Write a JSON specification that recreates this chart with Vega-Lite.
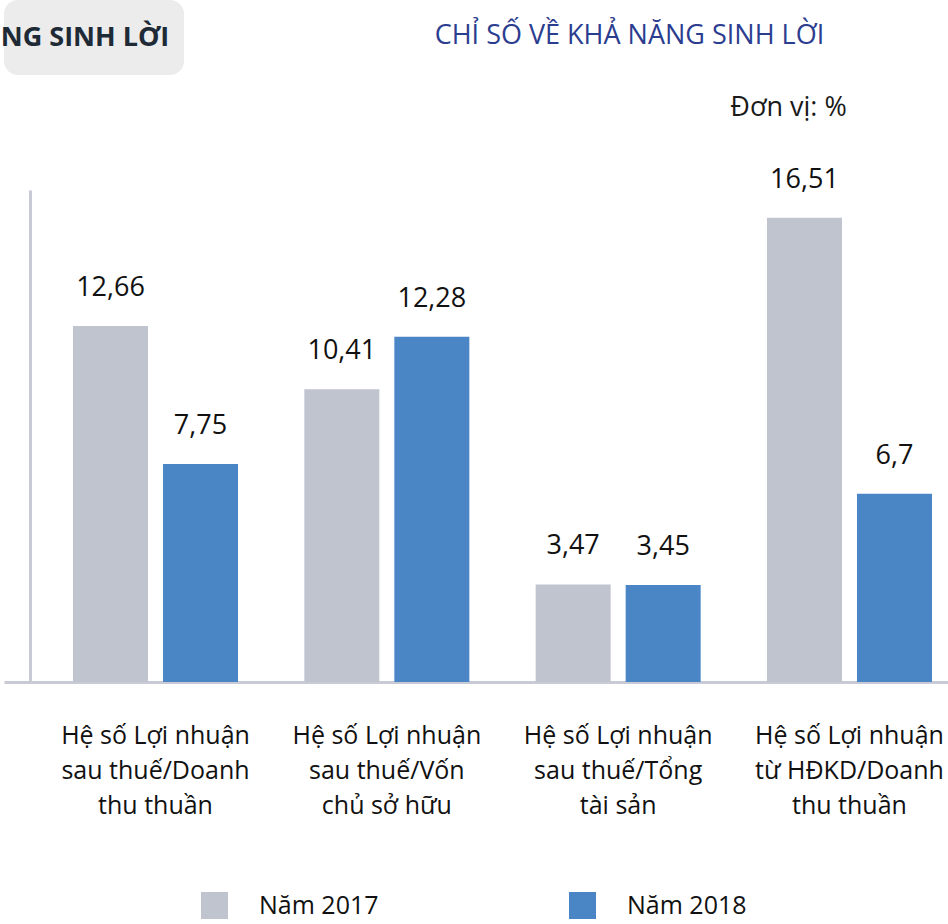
{
  "$schema": "https://vega.github.io/schema/vega-lite/v6.json",
  "padding": 0,
  "config": {
    "font": "Open Sans",
    "view": {"stroke": null},
    "concat": {"spacing": 0},
    "locale": {"number": {"decimal": ",", "thousands": ".", "grouping": [3], "currency": ["", ""]}}
  },
  "datasets": {
    "bars": [
      {"chi_so": "Hệ số Lợi nhuận\nsau thuế/Doanh\nthu thuần", "nam": "Năm 2017", "gia_tri": 12.66},
      {"chi_so": "Hệ số Lợi nhuận\nsau thuế/Doanh\nthu thuần", "nam": "Năm 2018", "gia_tri": 7.75},
      {"chi_so": "Hệ số Lợi nhuận\nsau thuế/Vốn\nchủ sở hữu", "nam": "Năm 2017", "gia_tri": 10.41},
      {"chi_so": "Hệ số Lợi nhuận\nsau thuế/Vốn\nchủ sở hữu", "nam": "Năm 2018", "gia_tri": 12.28},
      {"chi_so": "Hệ số Lợi nhuận\nsau thuế/Tổng\ntài sản", "nam": "Năm 2017", "gia_tri": 3.47},
      {"chi_so": "Hệ số Lợi nhuận\nsau thuế/Tổng\ntài sản", "nam": "Năm 2018", "gia_tri": 3.45},
      {"chi_so": "Hệ số Lợi nhuận\ntừ HĐKD/Doanh\nthu thuần", "nam": "Năm 2017", "gia_tri": 16.51},
      {"chi_so": "Hệ số Lợi nhuận\ntừ HĐKD/Doanh\nthu thuần", "nam": "Năm 2018", "gia_tri": 6.7}
    ],
    "header": [
      {"kind": "title", "text": "CHỈ SỐ VỀ KHẢ NĂNG SINH LỜI"},
      {"kind": "unit", "text": "Đơn vị: %"}
    ],
    "tab": [
      {"text": "NG SINH LỜI"}
    ]
  },
  "resolve": {"scale": {"color": "independent"}, "legend": {"color": "independent"}},
  "spacing": 0,
  "vconcat": [
    {
      "spacing": 0,
      "hconcat": [
        {
          "width": 180,
          "height": 75,
          "view": {"fill": "#ececec", "stroke": null, "cornerRadius": 14},
          "data": {"name": "tab"},
          "mark": {"type": "text", "fontSize": 27, "fontWeight": "bold", "color": "#1e2a35", "dx": -9},
          "encoding": {"text": {"field": "text", "type": "nominal"}}
        },
        {
          "width": 765,
          "height": 165,
          "data": {"name": "header"},
          "layer": [
            {
              "transform": [{"filter": "datum.kind === 'title'"}],
              "mark": {"type": "text", "fontSize": 27, "color": "#2b3d8f", "dx": 63, "dy": -47},
              "encoding": {"text": {"field": "text", "type": "nominal"}}
            },
            {
              "transform": [{"filter": "datum.kind === 'unit'"}],
              "mark": {"type": "text", "fontSize": 27, "color": "#1a1a1a", "dx": 222, "dy": 25},
              "encoding": {"text": {"field": "text", "type": "nominal"}}
            }
          ]
        }
      ]
    },
    {
      "width": 997,
      "height": 492,
      "data": {"name": "bars"},
      "encoding": {
        "x": {
          "field": "chi_so",
          "type": "nominal",
          "sort": null,
          "scale": {"paddingInner": 0.2866, "paddingOuter": 0.2983},
          "axis": {
            "title": null,
            "domainColor": "#c8cad6",
            "domainWidth": 3,
            "ticks": false,
            "labelAngle": 0,
            "labelPadding": 41,
            "labelFontSize": 25,
            "labelLineHeight": 35,
            "labelColor": "#111111",
            "labelLimit": 400,
            "labelBaseline": "top",
            "labelExpr": "split(datum.label, '\\n')"
          }
        },
        "xOffset": {"field": "nam", "type": "nominal", "scale": {"paddingInner": 0.1667, "paddingOuter": 0}},
        "y": {
          "field": "gia_tri",
          "type": "quantitative",
          "scale": {"domain": [0, 17.5]},
          "axis": {
            "title": null,
            "offset": -26,
            "domainColor": "#c8cad6",
            "domainWidth": 3,
            "ticks": false,
            "labels": false,
            "grid": false
          }
        }
      },
      "layer": [
        {
          "mark": {"type": "bar"},
          "encoding": {
            "color": {
              "field": "nam",
              "type": "nominal",
              "scale": {"domain": ["Năm 2017", "Năm 2018"], "range": ["#c0c4cf", "#4a86c6"]},
              "legend": {
                "title": null,
                "orient": "none",
                "direction": "horizontal",
                "legendX": 197,
                "legendY": 702,
                "padding": 0,
                "symbolType": "square",
                "symbolSize": 729,
                "symbolStrokeWidth": 0,
                "labelFontSize": 25,
                "labelOffset": 31,
                "labelColor": "#111111",
                "columnPadding": 190
              }
            }
          }
        },
        {
          "mark": {"type": "text", "dy": -38, "fontSize": 27, "color": "#111111"},
          "encoding": {"text": {"field": "gia_tri", "type": "quantitative", "format": "~g"}}
        }
      ]
    }
  ]
}
